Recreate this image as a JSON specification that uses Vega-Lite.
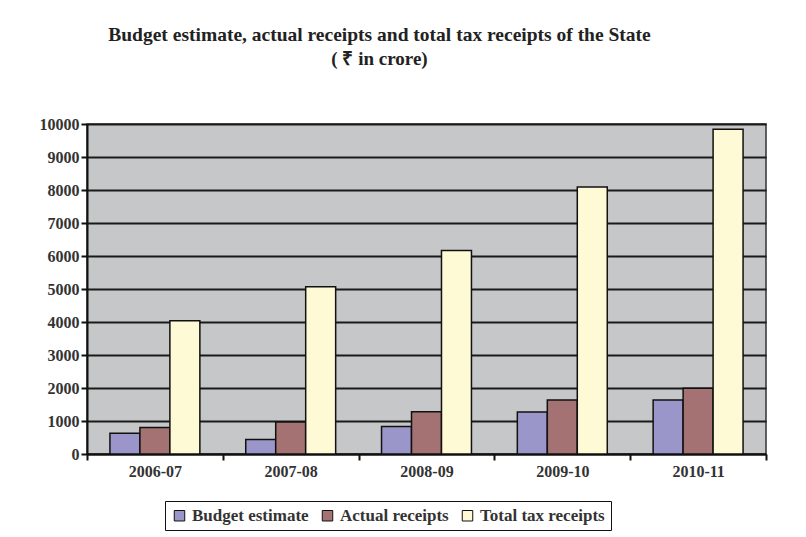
{
  "$schema": "https://vega.github.io/schema/vega-lite/v6.json",
  "width": 679,
  "height": 330,
  "autosize": {"type": "none"},
  "padding": {"left": 87, "top": 124, "right": 40, "bottom": 83},
  "background": "white",
  "title": {
    "text": "Budget estimate, actual receipts and total tax receipts of the State",
    "subtitle": "( ₹ in crore)",
    "font": "Liberation Serif",
    "fontSize": 19.5,
    "fontWeight": "bold",
    "color": "#222222",
    "subtitleFont": "Liberation Serif",
    "subtitleFontSize": 19,
    "subtitleFontWeight": "bold",
    "subtitleColor": "#222222",
    "subtitlePadding": 5,
    "anchor": "middle",
    "dx": -47,
    "offset": 46
  },
  "data": {
    "values": [
      {"year": "2006-07", "series": "Budget estimate", "value": 630},
      {"year": "2006-07", "series": "Actual receipts", "value": 800},
      {"year": "2006-07", "series": "Total tax receipts", "value": 4040},
      {"year": "2007-08", "series": "Budget estimate", "value": 440},
      {"year": "2007-08", "series": "Actual receipts", "value": 970},
      {"year": "2007-08", "series": "Total tax receipts", "value": 5070},
      {"year": "2008-09", "series": "Budget estimate", "value": 830},
      {"year": "2008-09", "series": "Actual receipts", "value": 1280},
      {"year": "2008-09", "series": "Total tax receipts", "value": 6170},
      {"year": "2009-10", "series": "Budget estimate", "value": 1270},
      {"year": "2009-10", "series": "Actual receipts", "value": 1640},
      {"year": "2009-10", "series": "Total tax receipts", "value": 8090},
      {"year": "2010-11", "series": "Budget estimate", "value": 1640},
      {"year": "2010-11", "series": "Actual receipts", "value": 1990},
      {"year": "2010-11", "series": "Total tax receipts", "value": 9840}
    ]
  },
  "mark": {"type": "bar", "stroke": "#111111", "strokeWidth": 1.5},
  "encoding": {
    "x": {
      "field": "year",
      "type": "nominal",
      "scale": {"paddingInner": 0, "paddingOuter": 0},
      "axis": {
        "title": null,
        "labelAngle": 0,
        "tickBand": "extent",
        "labelFont": "Liberation Serif",
        "labelFontWeight": "bold",
        "labelFontSize": 16,
        "labelColor": "#333333",
        "domainColor": "#111111",
        "domainWidth": 2,
        "tickColor": "#111111",
        "tickWidth": 2,
        "tickSize": 6,
        "labelPadding": 3
      }
    },
    "xOffset": {
      "field": "series",
      "type": "nominal",
      "sort": ["Budget estimate", "Actual receipts", "Total tax receipts"],
      "scale": {"paddingOuter": 0.765, "paddingInner": 0}
    },
    "y": {
      "field": "value",
      "type": "quantitative",
      "scale": {"domain": [0, 10000], "nice": false},
      "axis": {
        "title": null,
        "format": "d",
        "values": [0, 1000, 2000, 3000, 4000, 5000, 6000, 7000, 8000, 9000, 10000],
        "grid": true,
        "gridColor": "#1a1a1a",
        "gridWidth": 2,
        "labelFont": "Liberation Serif",
        "labelFontWeight": "bold",
        "labelFontSize": 16,
        "labelColor": "#333333",
        "domainColor": "#111111",
        "domainWidth": 2,
        "tickColor": "#111111",
        "tickWidth": 2,
        "tickSize": 6,
        "labelPadding": 2
      }
    },
    "color": {
      "field": "series",
      "type": "nominal",
      "scale": {
        "domain": ["Budget estimate", "Actual receipts", "Total tax receipts"],
        "range": ["#9b96c9", "#a47272", "#fffad6"]
      },
      "legend": {
        "title": null,
        "orient": "none",
        "legendX": 78,
        "legendY": 377,
        "direction": "horizontal",
        "strokeColor": "#111111",
        "padding": 6,
        "symbolType": "square",
        "symbolSize": 110,
        "symbolStrokeColor": "#111111",
        "symbolStrokeWidth": 1,
        "labelFont": "Liberation Serif",
        "labelFontWeight": "bold",
        "labelFontSize": 17,
        "labelColor": "#333333",
        "columnPadding": 10
      }
    }
  },
  "config": {
    "view": {"fill": "#c6c7c9", "stroke": "#333333", "strokeWidth": 1.5}
  }
}
